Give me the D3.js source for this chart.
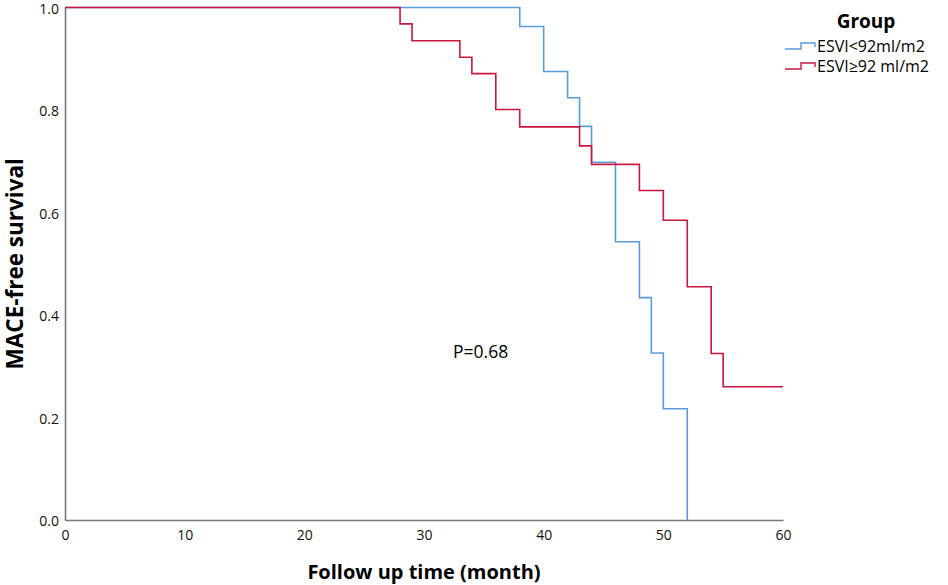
<!DOCTYPE html>
<html>
<head>
<meta charset="utf-8">
<script src="https://cdn.jsdelivr.net/npm/d3@7"></script>
<style>
  body { margin: 0; background: #fff; }
  text { font-family: "Open Sans", "DejaVu Sans", sans-serif; }
</style>
</head>
<body>
<div id="chart"></div>
<script>
const width = 948, height = 585;

// Kaplan-Meier steps (time in months, survival after the event)
const lowTimes = [0, 38, 40, 42, 43, 44, 46, 48, 49, 50, 52];
const lowSurv  = [1, 0.963, 0.875, 0.824, 0.768, 0.698, 0.543, 0.434, 0.326, 0.217, 0];
const highTimes = [0, 28, 29, 33, 34, 36, 38, 43, 44, 48, 50, 52, 54, 55, 60];
const highSurv  = [1, 0.968, 0.935, 0.903, 0.871, 0.801, 0.767, 0.730, 0.694, 0.643, 0.585, 0.455, 0.325, 0.260, 0.260];

const groupNames = ["ESVI<92ml/m2", "ESVI\u226592 ml/m2"];
const groupColors = ["#5a9bdc", "#c9173f"];
const xTicks = [0, 10, 20, 30, 40, 50, 60];
const yTicks = [0, 0.2, 0.4, 0.6, 0.8, 1.0];
const pLabel = "P=0.68";

const svg = d3.select("#chart").append("svg")
    .attr("width", width).attr("height", height);

const x = d3.scaleLinear().domain([0, 60]).range([65, 783]);
const y = d3.scaleLinear().domain([0, 1]).range([520, 7.5]);

//axes
const xAxis = svg.append("g")
    .attr("transform", "translate(0," + y(0) + ")")
    .call(d3.axisBottom(x).tickValues(xTicks).tickSize(0).tickPadding(10));
const yAxis = svg.append("g")
    .attr("transform", "translate(" + x(0) + ",0)")
    .call(d3.axisLeft(y).tickValues(yTicks).tickFormat(d3.format(".1f")).tickSize(0).tickPadding(6));

[xAxis, yAxis].forEach(function(ax){
    ax.select(".domain").attr("stroke", "#7a7a7a").attr("stroke-width", 1.6);
    ax.selectAll("text").style("font-size", "14px").attr("fill", "#111");
});
yAxis.selectAll("text").attr("dy", "0.4em");

//survival curves
const line = d3.line()
    .x(d => x(d[0])).y(d => y(d[1]))
    .curve(d3.curveStepAfter);

const series = [
    d3.zip(lowTimes, lowSurv),
    d3.zip(highTimes, highSurv)
];

svg.append("g").selectAll("path")
    .data(series)
    .enter().append("path")
    .attr("d", line)
    .attr("fill", "none")
    .attr("stroke", (d, i) => groupColors[i])
    .attr("stroke-width", 1.6);

//axis titles
svg.append("text")
    .attr("x", (x(0) + x(60)) / 2).attr("y", 579)
    .attr("text-anchor", "middle")
    .style("font-size", "20px").style("font-weight", "bold")
    .text("Follow up time (month)");

svg.append("text")
    .attr("transform", "translate(23," + ((y(0) + y(1)) / 2) + ") rotate(-90)")
    .attr("text-anchor", "middle")
    .style("font-size", "22.5px").style("font-weight", "bold")
    .text("MACE-free survival");

//p value
svg.append("text")
    .attr("x", 453).attr("y", 358)
    .style("font-size", "17.5px")
    .text(pLabel);

//legend
const legend = svg.append("g").attr("transform", "translate(785,0)");
legend.append("text")
    .attr("x", 81).attr("y", 28)
    .attr("text-anchor", "middle")
    .style("font-size", "19px").style("font-weight", "bold")
    .text("Group");

const entry = legend.selectAll(".entry")
    .data(groupNames)
    .enter().append("g")
    .attr("class", "entry")
    .attr("transform", (d, i) => "translate(0," + (49 + i * 20) + ")");

entry.append("path")
    .attr("d", "M0,0 H16 V-6 H30 V-2")
    .attr("fill", "none")
    .attr("stroke", (d, i) => groupColors[i])
    .attr("stroke-width", 1.4);

entry.append("text")
    .attr("x", 32).attr("y", 3)
    .style("font-size", "16px")
    .text(d => d);
</script>
</body>
</html>
